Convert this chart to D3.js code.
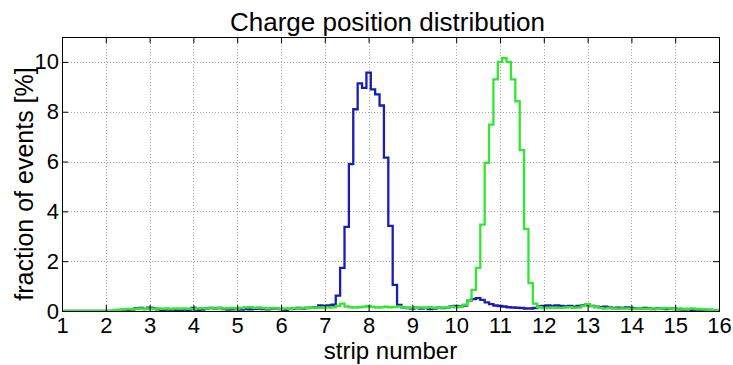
<!DOCTYPE html>
<html>
<head>
<meta charset="utf-8">
<script src="https://cdn.jsdelivr.net/npm/d3@7/dist/d3.min.js"></script>
<style>
  html, body { margin: 0; padding: 0; background: #ffffff; }
  svg { display: block; font-family: "Liberation Sans", Arial, sans-serif; }
</style>
</head>
<body>
<svg id="chart" width="733" height="365"></svg>
<script>
// Histogram bins are centred on strip positions 1.0, 1.1, ..., 16.0
const binStart = 1.0;
const binWidth = 0.1;

// fraction of events [%] per bin, first run (blue)
const blueValues = [
  0, 0, 0, 0, 0, 0, 0, 0, 0, 0,                                  // 1.0-1.9
  0, 0, 0, 0.02, 0.03, 0.05, 0.06, 0.1, 0.12, 0.08,              // 2.0-2.9
  0.13, 0.1, 0.07, 0.05, 0.06, 0.05, 0.04, 0.05, 0.06, 0.05,     // 3.0-3.9
  0.12, 0.05, 0.06, 0.1, 0.12, 0.1, 0.12, 0.08, 0.06, 0.07,      // 4.0-4.9
  0.08, 0.06, 0.08, 0.07, 0.09, 0.1, 0.08, 0.07, 0.1, 0.09,      // 5.0-5.9
  0.08, 0.05, 0.08, 0.1, 0.12, 0.1, 0.12, 0.13, 0.15, 0.22,      // 6.0-6.9
  0.2, 0.22, 0.25, 0.62, 1.73, 3.38, 5.9, 8.1, 9.14, 8.96,       // 7.0-7.9
  9.57, 8.9, 8.7, 8.25, 6.16, 3.42, 1.05, 0.24, 0.15, 0.12,      // 8.0-8.9
  0.1, 0.13, 0.1, 0.12, 0.08, 0.1, 0.13, 0.12, 0.15, 0.18,       // 9.0-9.9
  0.2, 0.18, 0.22, 0.42, 0.48, 0.52, 0.45, 0.35, 0.28, 0.22,     // 10.0-10.9
  0.2, 0.18, 0.15, 0.14, 0.13, 0.12, 0.1, 0.1, 0.12, 0.18,       // 11.0-11.9
  0.2, 0.22, 0.2, 0.22, 0.2, 0.18, 0.2, 0.17, 0.2, 0.22,         // 12.0-12.9
  0.25, 0.2, 0.17, 0.15, 0.17, 0.14, 0.12, 0.13, 0.12, 0.14,     // 13.0-13.9
  0.12, 0.1, 0.1, 0.12, 0.1, 0.08, 0.1, 0.09, 0.08, 0.1,         // 14.0-14.9
  0.08, 0.07, 0.06, 0.07, 0.05, 0.06, 0.05, 0.04, 0.04, 0.02,    // 15.0-15.9
  0                                                              // 16.0
];

// fraction of events [%] per bin, second run (green)
const greenValues = [
  0, 0, 0, 0, 0, 0, 0, 0, 0, 0,                                  // 1.0-1.9
  0, 0, 0.03, 0.05, 0.06, 0.08, 0.07, 0.08, 0.1, 0.09,           // 2.0-2.9
  0.1, 0.08, 0.1, 0.09, 0.1, 0.08, 0.1, 0.09, 0.1, 0.09,         // 3.0-3.9
  0.08, 0.1, 0.11, 0.1, 0.12, 0.1, 0.12, 0.1, 0.11, 0.12,        // 4.0-4.9
  0.1, 0.12, 0.14, 0.15, 0.13, 0.14, 0.12, 0.1, 0.12, 0.1,       // 5.0-5.9
  0.08, 0.1, 0.09, 0.12, 0.1, 0.12, 0.13, 0.12, 0.14, 0.13,      // 6.0-6.9
  0.15, 0.14, 0.15, 0.2, 0.3, 0.18, 0.15, 0.14, 0.15, 0.17,      // 7.0-7.9
  0.2, 0.16, 0.14, 0.15, 0.17, 0.15, 0.16, 0.18, 0.15, 0.13,     // 8.0-8.9
  0.12, 0.13, 0.14, 0.13, 0.15, 0.13, 0.12, 0.14, 0.15, 0.17,    // 9.0-9.9
  0.15, 0.17, 0.25, 0.42, 0.85, 1.73, 3.47, 5.95, 7.48, 9.3,     // 10.0-10.9
  10.0, 10.15, 10.0, 9.3, 8.42, 6.46, 3.3, 1.12, 0.3, 0.15,      // 11.0-11.9
  0.13, 0.12, 0.14, 0.13, 0.12, 0.14, 0.15, 0.13, 0.14, 0.2,     // 12.0-12.9
  0.28, 0.2, 0.15, 0.12, 0.1, 0.12, 0.1, 0.09, 0.1, 0.1,         // 13.0-13.9
  0.08, 0.09, 0.1, 0.08, 0.09, 0.1, 0.08, 0.1, 0.12, 0.1,        // 14.0-14.9
  0.09, 0.1, 0.08, 0.09, 0.1, 0.08, 0.07, 0.06, 0.05, 0.04,      // 15.0-15.9
  0.02                                                           // 16.0
];

const xTicks = [1, 2, 3, 4, 5, 6, 7, 8, 9, 10, 11, 12, 13, 14, 15, 16];
const yTicks = [0, 2, 4, 6, 8, 10];
const xDomain = [1, 16];
const yDomain = [0, 11];

const titleText = "Charge position distribution";
const xLabelText = "strip number";
const yLabelText = "fraction of events [%]";

const seriesColors = { blue: "#1a1eb0", green: "#33e633" };

// ---- layout ----
const svg = d3.select("#chart");
const W = 733, H = 365;
const margin = { left: 62, right: 14, top: 37, bottom: 54 };
const plotW = W - margin.left - margin.right;
const plotH = H - margin.top - margin.bottom;

const x = d3.scaleLinear().domain(xDomain).range([0, plotW]);
const y = d3.scaleLinear().domain(yDomain).range([plotH, 0]);

svg.append("rect").attr("width", W).attr("height", H).attr("fill", "#ffffff");

const g = svg.append("g").attr("transform", `translate(${margin.left},${margin.top})`);

g.append("defs").append("clipPath").attr("id", "plot-clip")
  .append("rect").attr("width", plotW).attr("height", plotH);

// dotted grid
const grid = g.append("g").attr("class", "grid")
  .attr("stroke", "#a8a8a8").attr("stroke-width", 1).attr("stroke-dasharray", "1,2");
grid.selectAll("line.gx").data(xTicks.filter(t => t > xDomain[0] && t < xDomain[1]))
  .join("line").attr("class", "gx")
  .attr("x1", d => Math.round(x(d)) + 0.5).attr("x2", d => Math.round(x(d)) + 0.5)
  .attr("y1", 0).attr("y2", plotH);
grid.selectAll("line.gy").data(yTicks.filter(t => t > yDomain[0] && t < yDomain[1]))
  .join("line").attr("class", "gy")
  .attr("y1", d => Math.round(y(d)) + 0.5).attr("y2", d => Math.round(y(d)) + 0.5)
  .attr("x1", 0).attr("x2", plotW);

// stair-step histogram outlines
function stepPoints(values) {
  const pts = values.map((v, i) => [binStart + i * binWidth - binWidth / 2, v]);
  const last = values.length - 1;
  pts.push([binStart + last * binWidth + binWidth / 2, values[last]]);
  return pts;
}
const stairs = d3.line()
  .x(d => x(d[0]))
  .y(d => y(d[1]))
  .curve(d3.curveStepAfter);

const lines = g.append("g").attr("clip-path", "url(#plot-clip)");
lines.append("path")
  .attr("d", stairs(stepPoints(blueValues)))
  .attr("fill", "none").attr("stroke", seriesColors.blue)
  .attr("stroke-width", 2.3).attr("stroke-linejoin", "miter");
lines.append("path")
  .attr("d", stairs(stepPoints(greenValues)))
  .attr("fill", "none").attr("stroke", seriesColors.green)
  .attr("stroke-width", 2.3).attr("stroke-linejoin", "miter");

// axes with inward ticks on all four sides
const tickLen = 6;
const fmt = d3.format("d");
const axB = g.append("g").attr("transform", `translate(0,${plotH})`)
  .call(d3.axisBottom(x).tickValues(xTicks).tickFormat(fmt).tickSizeInner(-tickLen).tickSizeOuter(0).tickPadding(6));
const axL = g.append("g")
  .call(d3.axisLeft(y).tickValues(yTicks).tickFormat(fmt).tickSizeInner(-tickLen).tickSizeOuter(0).tickPadding(3));
const axT = g.append("g")
  .call(d3.axisTop(x).tickValues(xTicks).tickFormat("").tickSizeInner(-tickLen).tickSizeOuter(0));
const axR = g.append("g").attr("transform", `translate(${plotW},0)`)
  .call(d3.axisRight(y).tickValues(yTicks).tickFormat("").tickSizeInner(-tickLen).tickSizeOuter(0));

[axB, axL, axT, axR].forEach(a => {
  a.select(".domain").remove();
  a.selectAll(".tick line").attr("stroke", "#000").attr("stroke-width", 1);
  a.selectAll(".tick text").attr("fill", "#000")
    .style("font-family", '"Liberation Sans", Arial, sans-serif').style("font-size", "22px");
});

// frame
g.append("rect").attr("x", 0.5).attr("y", 0.5).attr("width", plotW).attr("height", plotH)
  .attr("fill", "none").attr("stroke", "#000").attr("stroke-width", 1);

// title and axis labels
svg.append("text")
  .attr("x", margin.left + plotW / 2 - 3).attr("y", 31)
  .attr("text-anchor", "middle").attr("fill", "#000")
  .style("font-size", "26px").text(titleText);

svg.append("text")
  .attr("x", margin.left + plotW / 2).attr("y", 359)
  .attr("text-anchor", "middle").attr("fill", "#000")
  .style("font-size", "24px").text(xLabelText);

svg.append("text")
  .attr("transform", `translate(33,${margin.top + plotH / 2 + 10}) rotate(-90)`)
  .attr("text-anchor", "middle").attr("fill", "#000")
  .style("font-size", "25px").text(yLabelText);
</script>
</body>
</html>
